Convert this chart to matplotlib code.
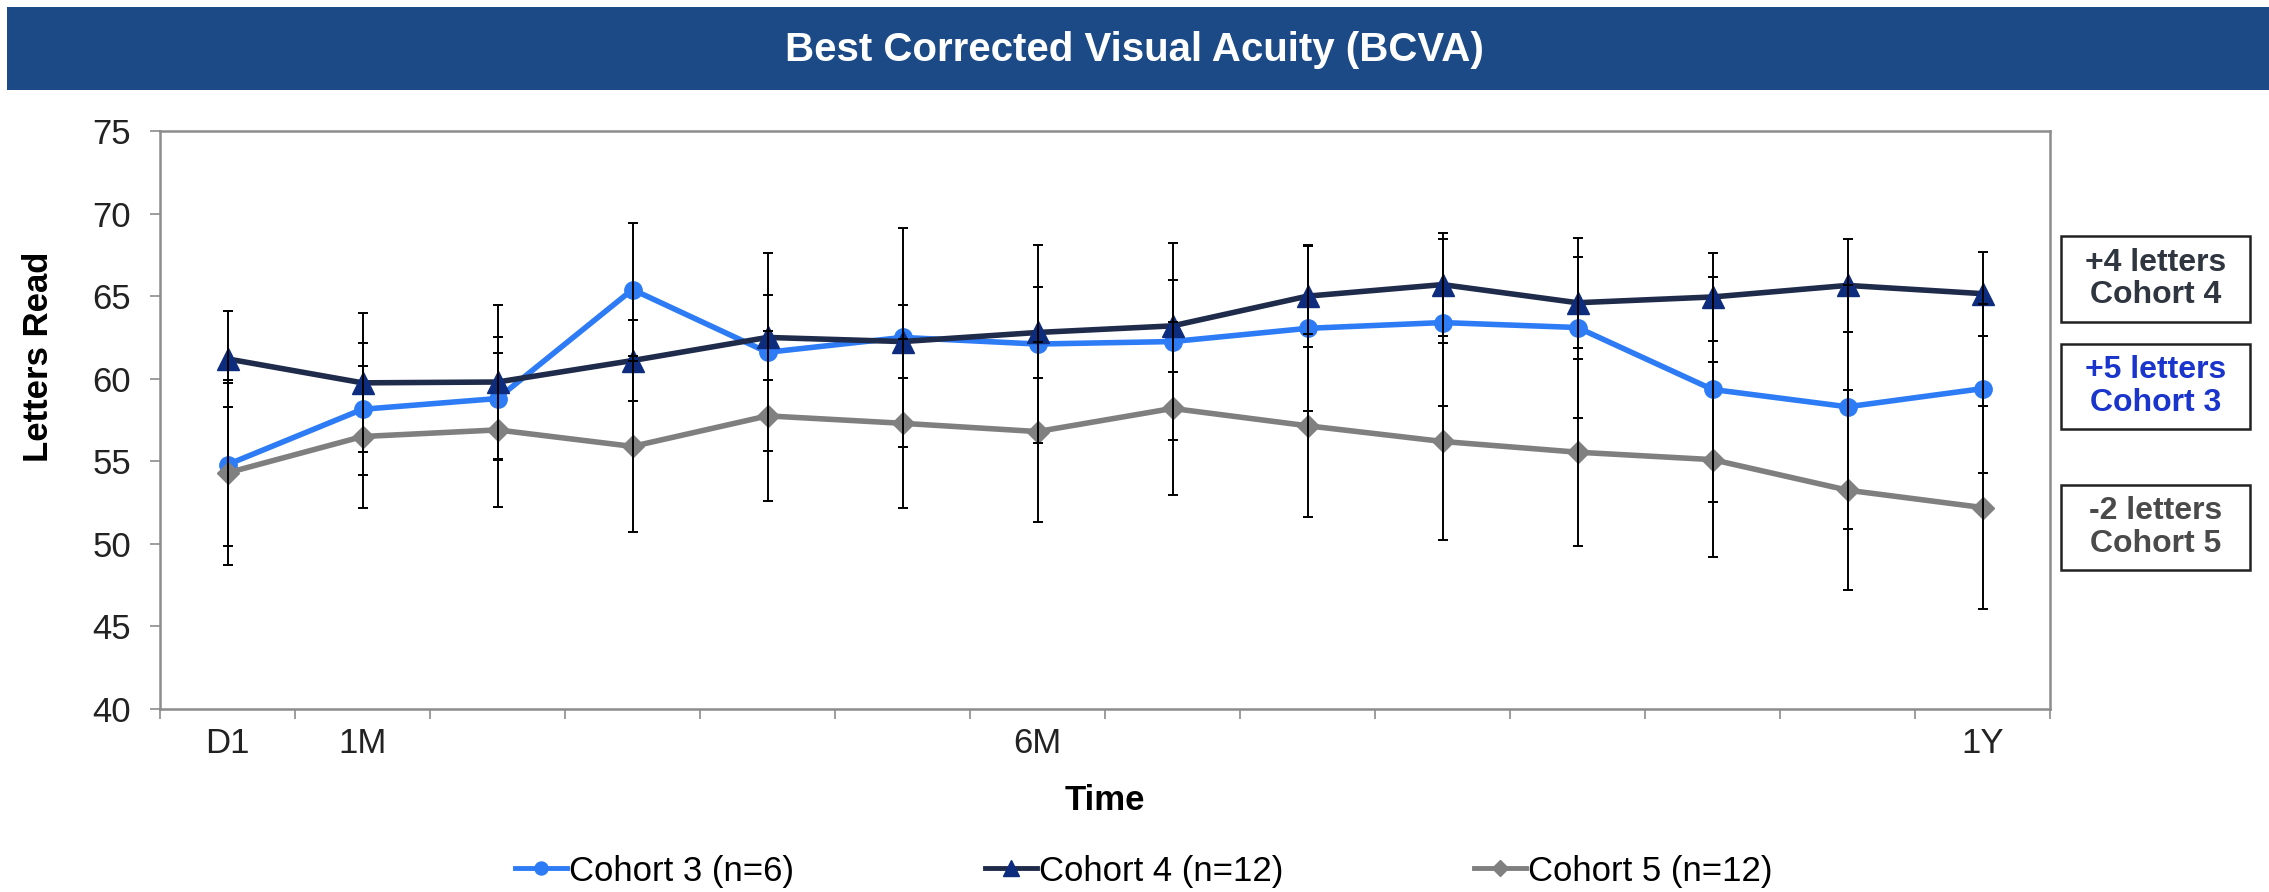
import numpy as np
import matplotlib
matplotlib.use("Agg")
import matplotlib.pyplot as plt
from matplotlib.patches import Rectangle
from matplotlib.lines import Line2D

plt.rcParams['font.family'] = ['Liberation Sans', 'DejaVu Sans']

# visits (14 time points), only some are labelled on the axis
visits = ["D1", "1M", "", "", "", "", "6M", "", "", "", "", "", "", "1Y"]

cohort3 = [54.8, 58.15, 58.8, 65.4, 61.6, 62.5, 62.1, 62.25, 63.05, 63.4, 63.1, 59.35, 58.3, 59.4]
cohort3_err = [4.95, 4.0, 3.7, 4.05, 6.0, 6.65, 6.0, 5.95, 5.0, 5.05, 5.45, 6.8, 7.4, 5.1]
cohort4 = [61.2, 59.75, 59.8, 61.1, 62.5, 62.25, 62.8, 63.2, 65.0, 65.7, 64.6, 64.95, 65.65, 65.15]
cohort4_err = [2.9, 4.2, 4.65, 2.45, 2.55, 2.2, 2.75, 2.8, 3.1, 3.1, 2.75, 2.65, 2.8, 2.55]
cohort5 = [54.3, 56.5, 56.9, 55.9, 57.75, 57.3, 56.8, 58.2, 57.15, 56.2, 55.55, 55.1, 53.25, 52.2]
cohort5_err = [5.6, 4.3, 4.65, 5.2, 5.15, 5.1, 5.45, 5.25, 5.55, 5.95, 5.65, 5.9, 6.05, 6.15]

series_names = ["Cohort 3 (n=6)", "Cohort 4 (n=12)", "Cohort 5 (n=12)"]
notes = ["+4 letters\nCohort 4", "+5 letters\nCohort 3", "-2 letters\nCohort 5"]

W, H = 2269, 892
fig = plt.figure(figsize=(W / 100, H / 100), dpi=100)

# title banner
fig.patches.append(Rectangle((7 / W, 1 - 90 / H), 1 - 7 / W, 83 / H, transform=fig.transFigure,
                             facecolor="#1C4A86", edgecolor="none", zorder=0))
fig.text(0.5, 1 - 50 / H, "Best Corrected Visual Acuity (BCVA)", color="white", fontsize=29,
         fontweight="bold", ha="center", va="center")

ax = fig.add_axes([160 / W, 1 - 709 / H, (2050 - 160) / W, (709 - 131) / H])
x = np.arange(len(visits))

styles = [
    dict(color="#2E7BF6", marker="o", ms=12.5, mfc="#2E7BF6", mec="#2E7BF6"),
    dict(color="#1F2B4A", marker="^", ms=16, mfc="#0E2C7E", mec="#0E2C7E"),
    dict(color="#7F7F7F", marker="D", ms=11, mfc="#808080", mec="#808080"),
]
data = [(cohort3, cohort3_err), (cohort4, cohort4_err), (cohort5, cohort5_err)]

for (vals, errs), st, name in zip(data, styles, series_names):
    ax.plot(x, vals, lw=4, zorder=2, label=name, **st)
for vals, errs in data:
    ax.errorbar(x, vals, yerr=errs, fmt="none", ecolor="black", elinewidth=1.4,
                capsize=3.6, capthick=1.4, zorder=3)

ax.set_xlim(-0.5, len(visits) - 0.5)
ax.set_ylim(40, 75)
ax.set_yticks(np.arange(40, 76, 5))
ax.set_xticks(x)
ax.set_xticklabels(visits)
ax.set_xticks(np.arange(-0.5, len(visits), 1), minor=True)
ax.tick_params(axis="x", which="major", length=0, pad=13, labelsize=25, colors="#222222")
ax.tick_params(axis="x", which="minor", length=7, width=1.2, color="#8C8C8C")
ax.tick_params(axis="y", length=7, width=1.2, color="#8C8C8C", pad=14, labelsize=25,
               labelcolor="#222222")
for sp in ax.spines.values():
    sp.set_color("#8C8C8C")
    sp.set_linewidth(1.8)

fig.text(38 / W, 1 - 357 / H, "Letters Read", rotation=90, ha="center", va="center",
         fontsize=25, fontweight="bold")
fig.text(1105 / W, 1 - 800 / H, "Time", ha="center", va="center", fontsize=25, fontweight="bold")

# summary boxes on the right
box_y = [(236, 322), (344, 429), (485, 570)]
note_colors = ["#2F3640", "#1A35CC", "#4A4A4A"]
for (y0, y1), txt, c in zip(box_y, notes, note_colors):
    fig.patches.append(Rectangle((2061 / W, 1 - y1 / H), 189 / W, (y1 - y0) / H,
                                 transform=fig.transFigure, facecolor="white",
                                 edgecolor="#222222", lw=1.8))
    fig.text(2155.5 / W, 1 - (y0 + y1) / 2 / H, txt, ha="center", va="center", fontsize=23,
             fontweight="bold", color=c, linespacing=1.1)

handles = [Line2D([], [], lw=3.5, **dict(st, ms=st["ms"] * 0.75)) for st in styles]
fig.legend(handles, series_names, loc="center", bbox_to_anchor=(0.504, 1 - 871 / H), ncol=3,
           frameon=False, fontsize=25, handlelength=1.5, handletextpad=0.05, columnspacing=5.5)

fig.savefig("out.png", dpi=100)
